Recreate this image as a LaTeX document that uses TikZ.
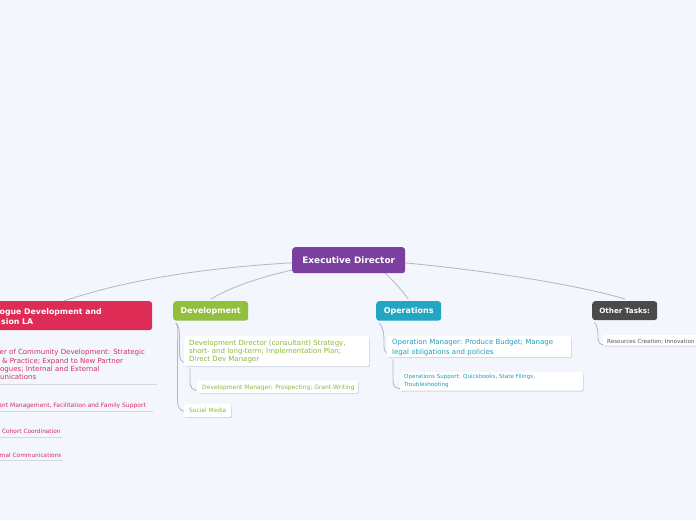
\documentclass[tikz,border=0pt]{standalone}
\usepackage{fontspec}
\setmainfont{DejaVu Sans}
\usetikzlibrary{calc}
\pgfdeclarelayer{bottom}
\pgfdeclarelayer{background}
\pgfsetlayers{bottom,background,main}
\definecolor{bgc}{HTML}{F3F6FD}
\definecolor{purp}{HTML}{7B3FA0}
\definecolor{redc}{HTML}{DD2C55}
\definecolor{greenc}{HTML}{92BF3E}
\definecolor{tealc}{HTML}{22A6C1}
\definecolor{darkc}{HTML}{4A4A4A}
\definecolor{redt}{HTML}{D42E5E}
\definecolor{greent}{HTML}{8CB83A}
\definecolor{tealt}{HTML}{1E9DBA}
\definecolor{grayt}{HTML}{555555}
\definecolor{connc}{HTML}{B3B6C2}
\definecolor{shadc}{HTML}{D3D7E1}
\tikzset{
  hdr/.style={fill=#1, rounded corners=3pt, text=white, font=\bfseries\fontsize{8}{10}\selectfont, inner sep=0pt, anchor=north west},
  subbox/.style={fill=white, rounded corners=1.5pt, inner sep=0pt, anchor=north west,
     preaction={fill=shadc, transform canvas={xshift=0.6pt,yshift=-1pt}}},
  txt/.style={text=#1, inner sep=0pt, anchor=base west, align=left},
  conn/.style={draw=connc, line width=0.8pt},
  uline/.style={draw=shadc, line width=0.8pt},
}
\begin{document}
\begin{tikzpicture}[x=1pt,y=-1pt]
\useasboundingbox (0,0) rectangle (696,520);
\begin{pgfonlayer}{bottom}
\fill[bgc] (0,0) rectangle (696,520);
\end{pgfonlayer}
\clip (0,0) rectangle (696,520);

% main nodes
\node[hdr=purp, minimum width=113pt, minimum height=26pt, font=\bfseries\fontsize{8.9}{10}\selectfont] (ed) at (292,247) {Executive Director};
\node[hdr=redc, minimum width=230pt, minimum height=29pt] (red) at (-78,301) {};
\node[txt=white, font=\bfseries\fontsize{7.8}{10}\selectfont] (redt) at (-0.5,324) {ogue Development and\\\hspace*{1.5pt}sion LA};
\node[hdr=greenc, minimum width=75pt, minimum height=19.5pt] (dev) at (173,301) {Development};
\node[hdr=tealc, minimum width=65pt, minimum height=19.5pt] (ops) at (376,301) {Operations};
\node[hdr=darkc, minimum width=65pt, minimum height=19pt, font=\bfseries\fontsize{7.2}{9}\selectfont] (oth) at (592,301) {Other Tasks:};

% left branch (clipped)
\node[txt=redt, font=\fontsize{7}{8.2}\selectfont] (l1) at (-0.5,379.4) {er of Community Development: Strategic\\\hspace*{2.5pt}\& Practice; Expand to New Partner\\\hspace*{0.5pt}ogues; Internal and External\\\hspace*{0.5pt}unications};
\node[txt=redt, font=\fontsize{6}{8}\selectfont] (l2) at (-0.5,407.1) {ort Management, Facilitation and Family Support};
\node[txt=redt, font=\fontsize{5.8}{8}\selectfont] (l3) at (2,433.1) {Cohort Coordination};
\node[txt=redt, font=\fontsize{5.8}{8}\selectfont] (l4) at (-0.5,457.1) {rnal Communications};

% development branch
\node[subbox, minimum width=185pt, minimum height=30pt] (dd) at (184,336) {};
\node[txt=greent, font=\fontsize{7}{8.2}\selectfont] (ddt) at (189,361.6) {Development Director (consultant) Strategy,\\short- and long-term; Implementation Plan;\\Direct Dev Manager};
\node[subbox, minimum width=161pt, minimum height=12.5pt] (dm) at (197,380.5) {};
\node[txt=greent, font=\fontsize{6}{8}\selectfont] (dmt) at (202,389.1) {Development Manager: Prospecting; Grant-Writing};
\node[subbox, minimum width=47pt, minimum height=13pt] (sm) at (184,404) {};
\node[txt=greent, font=\fontsize{5.9}{8}\selectfont] (smt) at (189,412.6) {Social Media};

% operations branch
\node[subbox, minimum width=184pt, minimum height=21pt] (om) at (387,336) {};
\node[txt=tealt, font=\fontsize{7}{9.4}\selectfont] (omt) at (392,354.1) {Operation Manager: Produce Budget; Manage\\legal obligations and policies};
\node[subbox, minimum width=183pt, minimum height=18.5pt] (os) at (400,372) {};
\node[txt=tealt, font=\fontsize{5.6}{8}\selectfont] (ost) at (404,386.9) {Operations Support: Quickbooks, State Filings,\\Troubleshooting};

% other tasks branch
\node[subbox, minimum width=110pt, minimum height=10.5pt] (rc) at (603,335) {};
\node[txt=grayt, font=\fontsize{5.6}{8}\selectfont] (rct) at (607,343) {Resources Creation; Innovation};

\begin{pgfonlayer}{background}
% connectors from Executive Director
\draw[conn] ($(ed.west)+(2,2.5)$) .. controls (200,268) and (120,281) .. ($(red.north)+(21,2)$);
\draw[conn] ($(ed.south west)+(3,-4)$) .. controls (255,278) and (225,290) .. ($(dev.north)+(0.5,-2)$);
\draw[conn] ($(ed.south)+(34.5,-2)$) .. controls (395,282) and (403,292) .. ($(ops.north)+(-0.5,-2)$);
\draw[conn] ($(ed.east)+(-2,2.5)$) .. controls (480,270) and (570,283) .. ($(oth.north)+(0.5,-2)$);
% development
\draw[conn] ($(dev.south west)+(3,2)$) .. controls (180,327) and (179.5,334) .. (179.5,345) -- (179.5,352) .. controls (179.5,360) and (181,362) .. ($(dd.south west)+(2,-4)$);
\draw[conn] ($(dev.south west)+(3,2)$) .. controls (179,327) and (177.5,334) .. (177.5,345) -- (177.5,400) .. controls (177.5,408) and (180,411) .. ($(sm.west)+(2,1)$);
\draw[conn] ($(dd.south west)+(6,2)$) -- (190,380) .. controls (190,388) and (192,390.5) .. ($(dm.south west)+(2,-3)$);
% operations
\draw[conn] ($(ops.south west)+(3,2)$) .. controls (383,327) and (384,333) .. (384,340) -- (384,346) .. controls (384,351) and (385,352.5) .. ($(om.south west)+(2,-4.5)$);
\draw[conn] ($(om.south west)+(6,2)$) -- (393,380) .. controls (393,387) and (396,389) .. ($(os.south west)+(2,-2.5)$);
% other
\draw[conn] ($(oth.south west)+(2.5,2)$) .. controls (597,325) and (598,330) .. (598,336) .. controls (598,343) and (600,345) .. ($(rc.south west)+(2,-1)$);
% underlines of the left branch
\draw[uline] (-5,384.5) -- (157,384.5);
\draw[uline] (-5,411.5) -- (152.5,411.5);
\draw[uline] (-5,437) -- (61.5,437);
\draw[uline] (-5,460.5) -- (63,460.5);
\end{pgfonlayer}
\end{tikzpicture}
\end{document}
